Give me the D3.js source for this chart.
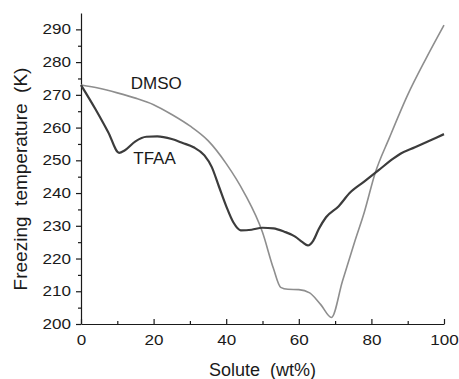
<!DOCTYPE html>
<html>
<head>
<meta charset="utf-8">
<script src="https://cdn.jsdelivr.net/npm/d3@7"></script>
<style>
	body { margin: 0; background: #fff; }
	text { font-family: "Liberation Sans", Arial, sans-serif; fill: #1a1a1a; }
</style>
</head>
<body>
<figure id="freezing" style="margin:0"></figure>
<script>
// solute content (wt%) and freezing temperature (K)
var dmsoX = [ 0, 5, 10, 15, 20, 25, 30, 35, 40, 45, 50, 53, 55, 57, 60, 63, 66, 69, 72, 75.5, 78, 81, 85, 90, 95, 100 ];
var dmsoT = [ 273, 272, 270.6, 269, 267, 264, 260.5, 256, 249, 240, 228, 217, 211.2, 210.6, 210.5, 209.5, 206, 202, 213, 225.5, 234, 246, 257, 270, 281, 291.3 ];

var tfaaX = [ 0, 4, 7.5, 10.5, 12, 15, 18, 21, 25, 28, 31, 34, 36, 38, 40, 42, 44, 47, 50, 53, 56, 59, 61, 62.5, 64, 65.5, 67.5, 71, 74, 78, 82, 86, 88, 92, 96, 100 ];
var tfaaT = [ 273, 265.6, 258.6, 252.3, 253, 255.8, 257.2, 257.3, 256.5, 255.3, 254, 251.5, 248, 242, 236, 231, 228.6, 228.8, 229.4, 229.2, 228.2, 226.7, 225, 224, 225.5, 229, 232.6, 236, 240, 243.5, 247, 250.5, 252, 254, 256, 258 ];

var xTicks = [ 0, 20, 40, 60, 80, 100 ];
var yTicks = [ 200, 210, 220, 230, 240, 250, 260, 270, 280, 290 ];

var dimensions = {
	width: 459,
	height: 379,
	margin: { top: 13, right: 15, bottom: 55, left: 81 }
};
dimensions.boundedWidth = dimensions.width - dimensions.margin.left - dimensions.margin.right;
dimensions.boundedHeight = dimensions.height - dimensions.margin.top - dimensions.margin.bottom;

// tick labels in the picture are a bit wider than plain Arial
var stretch = 1.22;

var svg = d3.select( "figure#freezing" )
	.append( "svg" )
	.attr( "width", dimensions.width )
	.attr( "height", dimensions.height )
	.append( "g" )
	.attr( "transform", `translate(${dimensions.margin.left},${dimensions.margin.top})` );

var xScale = d3.scaleLinear()
	.domain( [ 0, 100 ] )
	.range( [ 0, dimensions.boundedWidth ] );

var yScale = d3.scaleLinear()
	.domain( [ 200, 295 ] )
	.range( [ dimensions.boundedHeight, 0 ] );

// minor ticks first, no labels
svg.append( "g" )
	.attr( "transform", `translate(0, ${dimensions.boundedHeight})` )
	.call( d3.axisBottom( xScale ).tickValues( d3.range( 10, 100, 20 ) ).tickSize( -3 ).tickFormat( "" ) )
	.call( g => g.select( ".domain" ).remove() );

svg.append( "g" )
	.call( d3.axisLeft( yScale ).tickValues( d3.range( 205, 295, 10 ) ).tickSize( 3 ).tickFormat( "" ) )
	.call( g => g.select( ".domain" ).remove() );

// x ticks point inward, y ticks point outward
var xAxis = svg.append( "g" )
	.attr( "transform", `translate(0, ${dimensions.boundedHeight})` )
	.call( d3.axisBottom( xScale ).tickValues( xTicks ).tickSize( -5 ).tickPadding( 11 ).tickSizeOuter( 0 ) );

var yAxis = svg.append( "g" )
	.call( d3.axisLeft( yScale ).tickValues( yTicks ).tickSize( 5 ).tickPadding( 5 ).tickSizeOuter( 0 ) );

svg.selectAll( ".tick line, .domain" )
	.attr( "stroke", "#1a1a1a" )
	.attr( "stroke-width", 1.2 );

svg.selectAll( ".tick text" )
	.attr( "font-size", 14 )
	.style( "font-family", "'Liberation Sans', Arial, sans-serif" )
	.attr( "fill", "#1a1a1a" )
	.attr( "transform", `scale(${stretch},1)` );

yAxis.selectAll( ".tick text" )
	.attr( "x", -10 / stretch );

// the curves
var line = d3.line()
	.x( d => xScale( d[ 0 ] ) )
	.y( d => yScale( d[ 1 ] ) )
	.curve( d3.curveMonotoneX );

svg.append( "path" )
	.datum( d3.zip( dmsoX, dmsoT ) )
	.attr( "d", line )
	.attr( "fill", "none" )
	.attr( "stroke", "#8e8e8e" )
	.attr( "stroke-width", 1.6 );

svg.append( "path" )
	.datum( d3.zip( tfaaX, tfaaT ) )
	.attr( "d", line )
	.attr( "fill", "none" )
	.attr( "stroke", "#3c3c3c" )
	.attr( "stroke-width", 2.2 );

// curve labels
svg.append( "text" )
	.attr( "x", xScale( 13.7 ) )
	.attr( "y", yScale( 271.7 ) )
	.attr( "font-size", 17 )
	.text( "DMSO" );

svg.append( "text" )
	.attr( "x", xScale( 14.4 ) )
	.attr( "y", yScale( 248.8 ) )
	.attr( "font-size", 17 )
	.text( "TFAA" );

// axis titles
svg.append( "text" )
	.attr( "x", dimensions.boundedWidth / 2 )
	.attr( "y", dimensions.boundedHeight + 52 )
	.attr( "text-anchor", "middle" )
	.attr( "font-size", 18 )
	.attr( "xml:space", "preserve" )
	.text( "Solute  (wt%)" );

svg.append( "text" )
	.attr( "transform", `translate(-54.5, ${yScale( 244.3 )}) rotate(-90)` )
	.attr( "text-anchor", "middle" )
	.attr( "font-size", 19 )
	.attr( "xml:space", "preserve" )
	.text( "Freezing  temperature  (K)" );
</script>
</body>
</html>
